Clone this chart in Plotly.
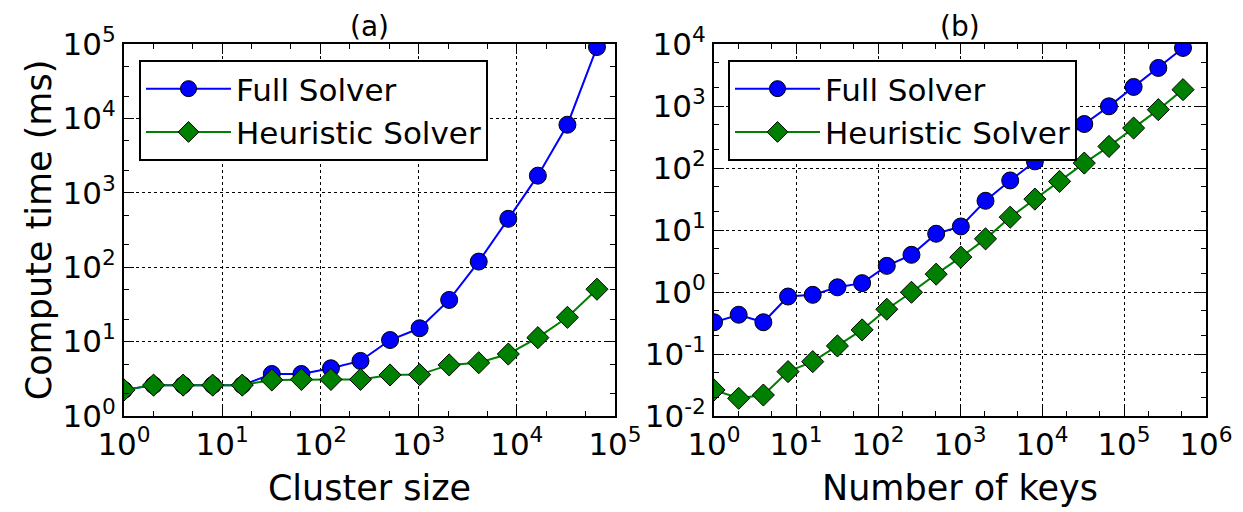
import plotly.graph_objects as go

# ---------------- data ----------------
cluster_sizes = [1, 2, 4, 8, 16, 32, 64, 128, 256, 512, 1024, 2048, 4096,
                 8192, 16384, 32768, 65536]
full_a = [2.24, 2.6, 2.6, 2.6, 2.6, 3.67, 3.67, 4.38, 5.5, 10.5, 15.1, 36.3,
          119, 447, 1700, 8220, 91000]
heur_a = [2.24, 2.6, 2.6, 2.6, 2.6, 3.05, 3.1, 3.1, 3.1, 3.56, 3.6, 4.86,
          5.2, 6.8, 11.3, 21.2, 50.6]

num_keys = [1, 2, 4, 8, 16, 32, 64, 128, 256, 512, 1024, 2048, 4096, 8192,
            16384, 32768, 65536, 131072, 262144, 524288]
full_b = [0.325, 0.43, 0.325, 0.845, 0.90, 1.19, 1.39, 2.64, 3.98, 8.7, 11.4,
          29.6, 63, 128, 255, 512, 988, 2028, 4110, 8640]
heur_b = [0.0263, 0.0193, 0.0218, 0.052, 0.0753, 0.135, 0.245, 0.527, 0.99,
          1.94, 3.65, 7.2, 16.1, 31.5, 60.8, 120, 223, 441, 873, 1836]

a_x_tickvals = [1, 10, 100, 1000, 10000, 100000]
a_x_ticktext = ["10<sup>0</sup>", "10<sup>1</sup>", "10<sup>2</sup>", "10<sup>3</sup>",
                "10<sup>4</sup>", "10<sup>5</sup>"]
a_y_tickvals = [1, 10, 100, 1000, 10000, 100000]
a_y_ticktext = ["10<sup>0</sup>", "10<sup>1</sup>", "10<sup>2</sup>", "10<sup>3</sup>",
                "10<sup>4</sup>", "10<sup>5</sup>"]
b_x_tickvals = [1, 10, 100, 1000, 10000, 100000, 1000000]
b_x_ticktext = ["10<sup>0</sup>", "10<sup>1</sup>", "10<sup>2</sup>", "10<sup>3</sup>",
                "10<sup>4</sup>", "10<sup>5</sup>", "10<sup>6</sup>"]
b_y_tickvals = [0.01, 0.1, 1, 10, 100, 1000, 10000]
b_y_ticktext = ["10<sup>-2</sup>", "10<sup>-1</sup>", "10<sup>0</sup>", "10<sup>1</sup>",
                "10<sup>2</sup>", "10<sup>3</sup>", "10<sup>4</sup>"]

BLUE = "#0000ff"
GREEN = "#008000"
FONT = "DejaVu Sans"

fig = go.Figure()


def add_pair(x, full, heur, xa, ya, legend):
    fig.add_trace(go.Scatter(
        x=x, y=full, name="Full Solver", mode="lines+markers",
        line=dict(color=BLUE, width=2), legendgroup=legend + "f",
        marker=dict(symbol="circle", size=17, color=BLUE,
                    line=dict(color="black", width=1)),
        xaxis=xa, yaxis=ya, legend=legend))
    fig.add_trace(go.Scatter(
        x=x, y=heur, name="Heuristic Solver", mode="lines+markers",
        line=dict(color=GREEN, width=2), legendgroup=legend + "h",
        marker=dict(symbol="diamond", size=17, color=GREEN,
                    line=dict(color="black", width=1)),
        xaxis=xa, yaxis=ya, legend=legend))


add_pair(cluster_sizes, full_a, heur_a, "x", "y", "legend")
add_pair(num_keys, full_b, heur_b, "x2", "y2", "legend2")

W, H = 1243, 512
ydom = [1 - 416 / H, 1 - 44 / H]

axis_common = dict(
    type="log", showline=True, linecolor="black", linewidth=2,
    mirror="ticks", ticks="inside", ticklen=10, tickwidth=1, tickcolor="black",
    showgrid=True, gridcolor="black", gridwidth=1, griddash="dot",
    zeroline=False, automargin=False,
    tickfont=dict(family=FONT, size=31, color="black"),
    minor=dict(ticks="inside", ticklen=5, tickwidth=1, tickcolor="black",
               showgrid=False),
)

legend_common = dict(
    yanchor="top", xanchor="left", bgcolor="white", bordercolor="black",
    borderwidth=2, font=dict(family=FONT, size=31, color="black"),
    itemwidth=85, tracegroupgap=6, traceorder="normal",
)

fig.update_layout(
    template="none",
    width=W, height=H,
    margin=dict(l=0, r=0, t=0, b=0, autoexpand=False),
    paper_bgcolor="white", plot_bgcolor="white",
    font=dict(family=FONT, color="black"),
    showlegend=True,
    xaxis=dict(axis_common, domain=[124 / W, 615 / W], anchor="y",
               range=[0, 5], tickvals=a_x_tickvals, ticktext=a_x_ticktext,
               title=dict(text="Cluster size", font=dict(size=35), standoff=14)),
    yaxis=dict(axis_common, domain=ydom, anchor="x",
               range=[0, 5], tickvals=a_y_tickvals, ticktext=a_y_ticktext,
               title=dict(text="Compute time (ms)", font=dict(size=35), standoff=0)),
    xaxis2=dict(axis_common, domain=[714 / W, 1206 / W], anchor="y2",
                range=[0, 6], tickvals=b_x_tickvals, ticktext=b_x_ticktext,
                title=dict(text="Number of keys", font=dict(size=35), standoff=14)),
    yaxis2=dict(axis_common, domain=ydom, anchor="x2",
                range=[-2, 4], tickvals=b_y_tickvals, ticktext=b_y_ticktext),
    legend=dict(legend_common, x=139 / W, y=1 - 60 / H),
    legend2=dict(legend_common, x=728 / W, y=1 - 60 / H),
    annotations=[
        dict(text="(a)", x=369.5 / W, y=1 - 45 / H, xref="paper", yref="paper",
             xanchor="center", yanchor="bottom", showarrow=False,
             font=dict(size=28, family=FONT, color="black")),
        dict(text="(b)", x=960 / W, y=1 - 45 / H, xref="paper", yref="paper",
             xanchor="center", yanchor="bottom", showarrow=False,
             font=dict(size=28, family=FONT, color="black")),
    ],
)

fig.write_html("out.html", config={"displayModeBar": False},
               post_script="document.body.style.margin='0px';")
